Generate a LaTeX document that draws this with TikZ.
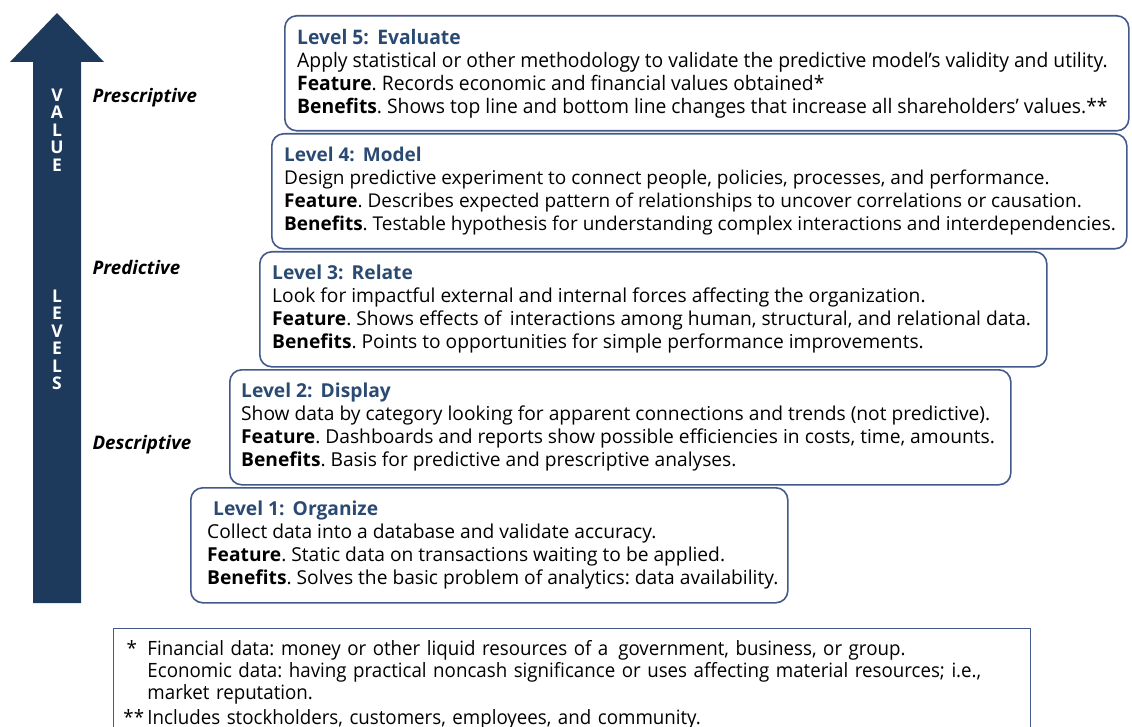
\documentclass[tikz,border=0pt]{standalone}
\usepackage{fontspec}
\setmainfont{Open Sans}
\newfontfamily\narrowfont{Open Sans}[FakeStretch=0.965]
\newfontfamily\notefont{Open Sans}[FakeStretch=0.95]
\usetikzlibrary{positioning}
\frenchspacing

\definecolor{arrowblue}{HTML}{1D3A5C}
\definecolor{framecol}{HTML}{42598A}
\definecolor{titlecol}{HTML}{2B4A72}

\tikzset{
  levelbox/.style={draw=framecol, line width=1.6pt, rounded corners=12pt,
    anchor=north west, minimum height=115pt},
  leveltext/.style={align=left, inner xsep=13pt, inner ysep=0pt,
    font=\fontsize{19.2}{23}\selectfont},
  tierlabel/.style={anchor=west, font=\fontsize{18.7}{20}\selectfont\bfseries\itshape},
  spine/.style={text=white, align=center, font=\fontsize{17.5}{17.5}\selectfont\bfseries},
  notebox/.style={draw=framecol, line width=0.9pt, anchor=north west, align=left,
    inner xsep=10pt, inner ysep=12pt, text width=897pt,
    font=\notefont\fontsize{19.7}{22}\selectfont}
}
\newcommand{\lvltitle}[1]{{\color{titlecol}\bfseries #1}}

\begin{document}
\begin{tikzpicture}[x=1pt,y=-1pt]
    \useasboundingbox (0,0) rectangle (1132,727);
    % the big value arrow
    \fill[arrowblue] (33,603) -- (33,62) -- (10,62) -- (57,13) -- (104,62) -- (81,62) -- (81,603) -- cycle;
    \node[spine] (valueword) at (57,130) {V\\A\\L\\U\\E};
    \node[spine] (levelsword) at (57,340) {L\\E\\V\\E\\L\\S};

    \node[tierlabel] (prescr) at (89,98) {Prescriptive};
    \node[tierlabel] (predic) at (89,267) {Predictive};
    \node[tierlabel] (descr) at (89,445) {Descriptive};

    % the five levels, top down: frame first, then its text
    \node[levelbox, minimum width=844pt] (lvl5) at (284,15) {};
    \node[leveltext, right=0pt of lvl5.west, yshift=-1pt, font=\narrowfont\fontsize{20}{23}\selectfont] (lvl5txt) {%
        \lvltitle{Level 5:\, Evaluate}\\
        Apply statistical or other methodology to validate the predictive model’s validity and utility.\\
        \textbf{Feature}. Records economic and financial values obtained*\\
        \textbf{Benefits}. Shows top line and bottom line changes that increase all shareholders’ values.**};

    \node[levelbox, minimum width=855pt] (lvl4) at (271,133) {};
    \node[leveltext, right=0pt of lvl4.west, font=\fontsize{19}{23}\selectfont] (lvl4txt) {%
        \lvltitle{Level 4:\, Model}\\
        Design predictive experiment to connect people, policies, processes, and performance.\\
        \textbf{Feature}. Describes expected pattern of relationships to uncover correlations or causation.\\
        \textbf{Benefits}. Testable hypothesis for understanding complex interactions and interdependencies.};

    \node[levelbox, minimum width=787pt] (lvl3) at (259,251) {};
    \node[leveltext, right=0pt of lvl3.west] (lvl3txt) {%
        \lvltitle{Level 3:\, Relate}\\
        Look for impactful external and internal forces affecting the organization.\\
        \textbf{Feature}. Shows effects of\, interactions among human, structural, and relational data.\\
        \textbf{Benefits}. Points to opportunities for simple performance improvements.};

    \node[levelbox, minimum width=781pt] (lvl2) at (229,369) {};
    \node[leveltext, right=0pt of lvl2.west, inner xsep=12pt] (lvl2txt) {%
        \lvltitle{Level 2:\, Display}\\
        Show data by category looking for apparent connections and trends (not predictive).\\
        \textbf{Feature}. Dashboards and reports show possible efficiencies in costs, time, amounts.\\
        \textbf{Benefits}. Basis for predictive and prescriptive analyses.};

    \node[levelbox, minimum width=597pt] (lvl1) at (190,487) {};
    \node[leveltext, right=0pt of lvl1.west, inner xsep=17pt] (lvl1txt) {%
        \hspace*{6pt}\lvltitle{Level 1:\, Organize}\\
        Collect data into a database and validate accuracy.\\
        \textbf{Feature}. Static data on transactions waiting to be applied.\\
        \textbf{Benefits}. Solves the basic problem of analytics: data availability.};

    % footnotes, cut off at the bottom edge
    \node[notebox] (notes) at (113,628) {%
        \makebox[24pt][l]{\,*}Financial data: money or other liquid resources of a\, government, business, or group.\\
        \hspace*{24pt}Economic data: having practical noncash significance or uses affecting material resources; i.e.,\\
        \hspace*{24pt}market reputation.\\[3pt]
        \makebox[24pt][l]{**}Includes stockholders, customers, employees, and community.};
\end{tikzpicture}
\end{document}
